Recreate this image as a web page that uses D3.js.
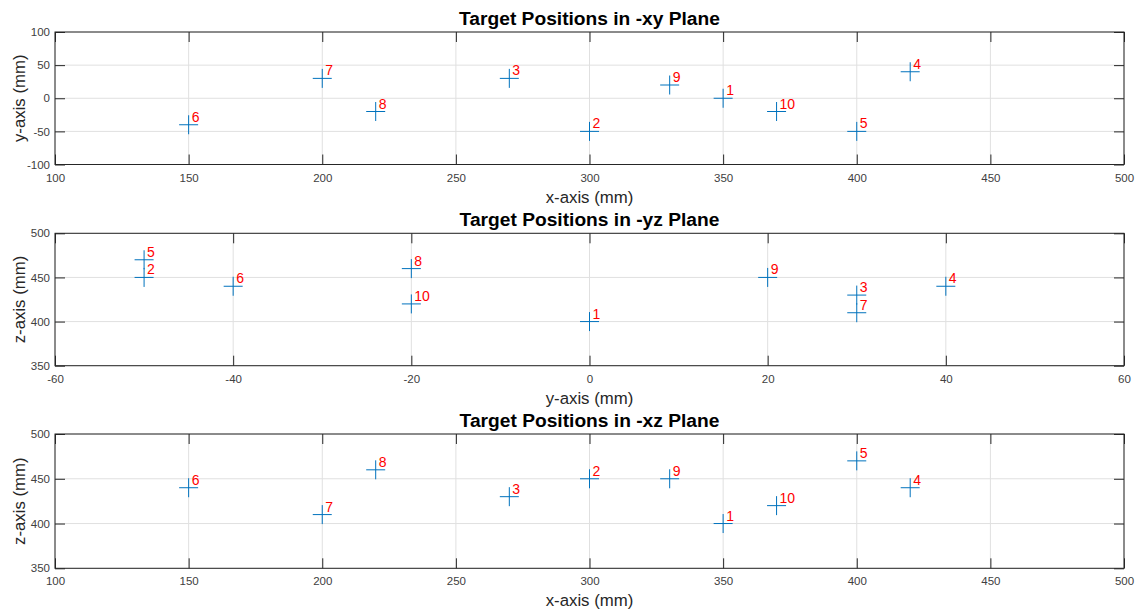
<!DOCTYPE html>
<html><head><meta charset="utf-8">
<script src="https://cdn.jsdelivr.net/npm/d3@7"></script>
<style>body{margin:0;background:#fff}svg{display:block;font-family:"Liberation Sans",Arial,sans-serif}</style>
</head><body><svg id="c" width="1139" height="610"></svg>
<script>
const ids = [1,2,3,4,5,6,7,8,9,10];
const xs = [350,300,270,420,400,150,200,220,330,370];
const ys = [0,-50,30,40,-50,-40,30,-20,20,-20];
const zs = [400,450,430,440,470,440,410,460,450,420];
const xTicks = [100,150,200,250,300,350,400,450,500];
const yTicksXY = [-100,-50,0,50,100];
const yTicksYZ = [-60,-40,-20,0,20,40,60];
const zTicks = [350,400,450,500];

const panels = [
  {title:"Target Positions in -xy Plane", xl:"x-axis (mm)", yl:"y-axis (mm)", h:xs, v:ys, xd:[100,500], yd:[-100,100], xt:xTicks, yt:yTicksXY, top:32, bot:164.5},
  {title:"Target Positions in -yz Plane", xl:"y-axis (mm)", yl:"z-axis (mm)", h:ys, v:zs, xd:[-60,60], yd:[350,500], xt:yTicksYZ, yt:zTicks, top:233.3, bot:365.7},
  {title:"Target Positions in -xz Plane", xl:"x-axis (mm)", yl:"z-axis (mm)", h:xs, v:zs, xd:[100,500], yd:[350,500], xt:xTicks, yt:zTicks, top:434, bot:568.3}
];
const L = 55, R = 1124;
const svg = d3.select("#c");
const axc = "#262626", tc = "#404040", grid = "#e0e0e0", blue = "#0072BD";
const TL = 10;
const fmt = d => String(d);

panels.forEach(p => {
  const sx = d3.scaleLinear().domain(p.xd).range([L, R]);
  const sy = d3.scaleLinear().domain(p.yd).range([p.bot, p.top]);
  const g = svg.append("g");
  g.selectAll(".gx").data(p.xt).join("line")
    .attr("x1", d=>sx(d)).attr("x2", d=>sx(d)).attr("y1", p.top).attr("y2", p.bot)
    .attr("stroke", grid).attr("stroke-width", 1);
  g.selectAll(".gy").data(p.yt).join("line")
    .attr("y1", d=>sy(d)).attr("y2", d=>sy(d)).attr("x1", L).attr("x2", R)
    .attr("stroke", grid).attr("stroke-width", 1);
  const ax = g.append("g").attr("transform", `translate(0,${p.bot})`)
    .call(d3.axisBottom(sx).tickValues(p.xt).tickSizeInner(-TL).tickSizeOuter(0).tickFormat(fmt));
  const axT = g.append("g").attr("transform", `translate(0,${p.top})`)
    .call(d3.axisTop(sx).tickValues(p.xt).tickSizeInner(-TL).tickSizeOuter(0).tickFormat(""));
  const ay = g.append("g").attr("transform", `translate(${L},0)`)
    .call(d3.axisLeft(sy).tickValues(p.yt).tickSizeInner(-TL).tickSizeOuter(0).tickPadding(5).tickFormat(fmt));
  const ayR = g.append("g").attr("transform", `translate(${R},0)`)
    .call(d3.axisRight(sy).tickValues(p.yt).tickSizeInner(-TL).tickSizeOuter(0).tickFormat(""));
  [ax, axT, ay, ayR].forEach(a => {
    a.select(".domain").remove();
    a.selectAll("line").attr("stroke", axc).attr("stroke-width", 1);
    a.selectAll("text").attr("fill", tc).attr("font-size", 11.5).attr("font-family", '"Liberation Sans",Arial,sans-serif');
  });
  ax.selectAll("text").attr("dy", "0.71em").attr("y", 9);
  g.append("rect").attr("x", L).attr("y", p.top).attr("width", R-L).attr("height", p.bot-p.top)
    .attr("fill", "none").attr("stroke", axc).attr("stroke-width", 1);
  const pts = ids.map((id,i) => ({id, h:p.h[i], v:p.v[i]}));
  const m = 9.5;
  const mk = g.selectAll(".m").data(pts).join("g").attr("transform", d=>`translate(${sx(d.h)},${sy(d.v)})`);
  mk.append("line").attr("x1",-m).attr("x2",m).attr("y1",0).attr("y2",0).attr("stroke",blue).attr("stroke-width",1);
  mk.append("line").attr("y1",-m).attr("y2",m).attr("x1",0).attr("x2",0).attr("stroke",blue).attr("stroke-width",1);
  mk.append("text").attr("x",3).attr("y",-3).text(d=>d.id).attr("fill","#ff0000").attr("font-size",14);
  g.append("text").attr("x", (L+R)/2).attr("y", p.top-7.5).attr("text-anchor","middle")
    .attr("font-weight","bold").attr("font-size",19.2).attr("fill","#000").text(p.title);
  g.append("text").attr("x", (L+R)/2).attr("y", p.bot+38).attr("text-anchor","middle")
    .attr("font-size",16.8).attr("fill",axc).text(p.xl);
  g.append("text").attr("transform", `translate(25,${(p.top+p.bot)/2}) rotate(-90)`).attr("text-anchor","middle")
    .attr("font-size",16.8).attr("fill",axc).text(p.yl);
});
</script></body></html>
